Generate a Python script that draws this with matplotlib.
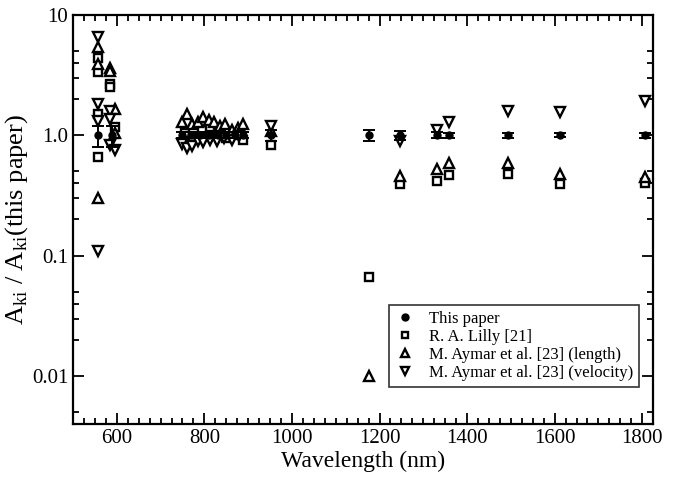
import matplotlib
matplotlib.use("Agg")
import matplotlib.pyplot as plt
from matplotlib.lines import Line2D
import numpy as np

plt.rcParams['font.family'] = ['Liberation Serif', 'DejaVu Serif']
plt.rcParams['mathtext.fontset'] = 'custom'
plt.rcParams['mathtext.rm'] = 'Liberation Serif'

# This paper (ratio = 1 with error bars)
wl_this = [557, 590, 750, 770, 790, 810, 830, 850, 870, 888, 952, 1176, 1247, 1331, 1358, 1493, 1612, 1806]
r_this = [1.0] * len(wl_this)
err_this = [0.2, 0.2, 0.06, 0.06, 0.06, 0.06, 0.06, 0.06, 0.06, 0.06, 0.1, 0.1, 0.08, 0.06, 0.05, 0.05, 0.04, 0.05]

# R. A. Lilly [21]
wl_lilly = [557, 557, 557, 557, 584, 584, 596, 755, 775, 795, 812, 830, 850, 870, 888, 952, 1176, 1247, 1331, 1358, 1493, 1612, 1806]
r_lilly = [4.4, 3.35, 1.5, 0.66, 2.65, 2.5, 1.18, 1.05, 0.95, 1.1, 1.0, 1.05, 0.95, 1.0, 0.92, 0.83, 0.067, 0.39, 0.42, 0.47, 0.48, 0.39, 0.40]

# M. Aymar et al. [23] (length)
wl_len = [557, 557, 557, 584, 584, 596, 596, 748, 760, 772, 785, 798, 810, 822, 835, 848, 862, 876, 888, 952, 1176, 1247, 1331, 1358, 1493, 1612, 1806]
r_len = [5.4, 3.9, 0.3, 3.6, 3.4, 1.66, 1.05, 1.3, 1.5, 1.25, 1.3, 1.42, 1.35, 1.3, 1.2, 1.25, 1.1, 1.15, 1.25, 1.08, 0.01, 0.46, 0.52, 0.59, 0.59, 0.48, 0.45]

# M. Aymar et al. [23] (velocity)
wl_vel = [557, 557, 557, 557, 584, 584, 584, 596, 748, 760, 772, 785, 798, 812, 828, 845, 862, 880, 952, 1247, 1331, 1358, 1493, 1612, 1806]
r_vel = [6.5, 1.83, 1.32, 0.11, 1.6, 1.37, 0.83, 0.76, 0.85, 0.78, 0.82, 0.9, 0.88, 0.92, 0.9, 0.95, 0.92, 0.98, 1.2, 0.89, 1.1, 1.3, 1.6, 1.57, 1.93]

labels = ['This paper', 'R. A. Lilly [21]', 'M. Aymar et al. [23] (length)',
          'M. Aymar et al. [23] (velocity)']

fig = plt.figure(figsize=(6.73, 4.79), dpi=100)
ax = fig.add_axes([0.1085, 0.115, 0.862, 0.854])

open_style = dict(mfc='white', mec='black', mew=1.7, ls='none')
ax.errorbar(wl_this, r_this, yerr=err_this, fmt='o', color='black', ms=5,
            capsize=4, elinewidth=1.4, capthick=1.4, zorder=5)
ax.plot(wl_lilly, r_lilly, 's', ms=5.5, **open_style)
ax.plot(wl_len, r_len, '^', ms=7, **open_style)
ax.plot(wl_vel, r_vel, 'v', ms=7, **open_style)

ax.set_yscale('log')
ax.set_ylim(0.004, 10)
ax.set_xlim(500, 1825)

ax.set_xticks([600, 800, 1000, 1200, 1400, 1600, 1800])
ax.set_xticks(np.arange(500, 1826, 25), minor=True)
ax.set_yticks([0.01, 0.1, 1, 10])
ax.set_yticklabels(['0.01', '0.1', '1.0', '10'])
minor_y = [m * 10.0 ** e for e in (-3, -2, -1, 0) for m in (2, 3, 4, 5)]
ax.set_yticks([v for v in minor_y if 0.004 < v < 10], minor=True)
ax.yaxis.set_minor_formatter(matplotlib.ticker.NullFormatter())

ax.tick_params(which='both', direction='in', top=True, right=True, labelsize=15, width=1.3)
ax.tick_params(which='major', length=8)
ax.tick_params(which='minor', length=4)
for s in ax.spines.values():
    s.set_linewidth(1.6)

ax.set_xlabel('Wavelength (nm)', fontsize=17, labelpad=2)
ax.set_ylabel(r'A$_{\rm ki}$ / A$_{\rm ki}$(this paper)', fontsize=19, labelpad=1)

handles = [
    Line2D([], [], marker='o', color='black', ls='none', ms=5),
    Line2D([], [], marker='s', ms=5, **open_style),
    Line2D([], [], marker='^', ms=6, **open_style),
    Line2D([], [], marker='v', ms=6, **open_style),
]
leg = ax.legend(handles, labels, loc='lower right', bbox_to_anchor=(0.9895, 0.07),
                fontsize=12, frameon=True, fancybox=False, edgecolor='black',
                handletextpad=0.8, borderpad=0.35, labelspacing=0.12, handlelength=1.2)
leg.get_frame().set_linewidth(1.2)

fig.savefig('out.png', dpi=100)
